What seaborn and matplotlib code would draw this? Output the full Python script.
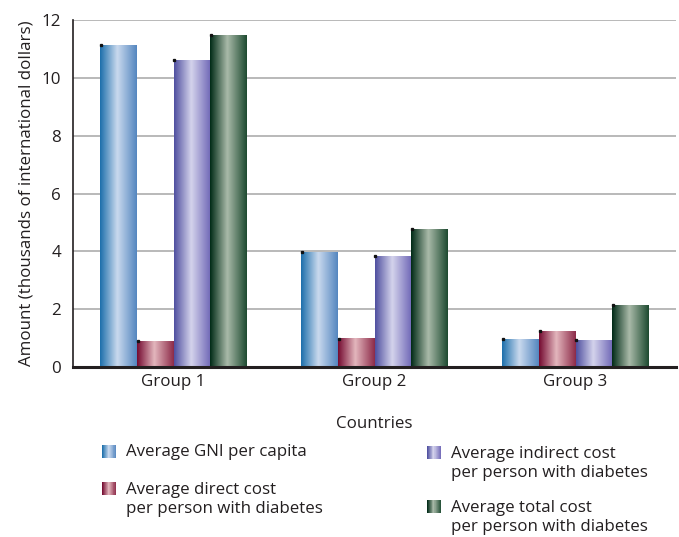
import numpy as np
import pandas as pd
import matplotlib
matplotlib.use("Agg")
import matplotlib.pyplot as plt
import seaborn as sns
from matplotlib.colors import LinearSegmentedColormap
from matplotlib.patches import Rectangle

# Data (thousands of international dollars)
groups = ["Group 1", "Group 2", "Group 3"]
series = [
    "Average GNI per capita",
    "Average direct cost\nper person with diabetes",
    "Average indirect cost\nper person with diabetes",
    "Average total cost\nper person with diabetes",
]
gni_per_capita = [11.13, 3.97, 0.96]
direct_cost = [0.89, 0.97, 1.23]
indirect_cost = [10.61, 3.83, 0.92]
total_cost = [11.48, 4.76, 2.13]

# Cylinder-like shading for each series: left edge, highlight, right edge
shades = [
    ["#1c6fab", "#c9d9ee", "#5486bf"],
    ["#740a30", "#e3b6bd", "#8c2a48"],
    ["#4f4f9f", "#d4d3ec", "#6e66b6"],
    ["#002a16", "#a9baa9", "#1d4a30"],
]

df = pd.DataFrame({
    "Countries": groups * 4,
    "series": np.repeat(series, len(groups)),
    "value": gni_per_capita + direct_cost + indirect_cost + total_cost,
})

sns.set_style("white")
text_color = "#231f20"
FS = 12.2
plt.rcParams["font.family"] = ["Open Sans", "DejaVu Sans"]
plt.rcParams["font.size"] = FS
plt.rcParams["text.color"] = text_color
plt.rcParams["axes.labelcolor"] = text_color
plt.rcParams["xtick.color"] = text_color
plt.rcParams["ytick.color"] = text_color

W, H = 679, 537
fig = plt.figure(figsize=(W / 100, H / 100), dpi=100)
ax = fig.add_axes([73 / W, 1 - 367 / H, 603 / W, 347 / H])

sns.barplot(data=df, x="Countries", y="value", hue="series", hue_order=series,
            order=groups, palette=[s[0] for s in shades], saturation=1,
            width=0.73, linewidth=0, legend=False, ax=ax)

cmaps = [LinearSegmentedColormap.from_list(f"shade{i}", list(zip([0, 0.47, 1], s)))
         for i, s in enumerate(shades)]
ramp = np.linspace(0, 1, 256)[None, :]

for cont, cmap in zip(ax.containers, cmaps):
    for bar in cont:
        x, w, h = bar.get_x(), bar.get_width(), bar.get_height()
        ax.imshow(ramp, cmap=cmap, extent=[x, x + w, 0, h], aspect="auto",
                  interpolation="bilinear", zorder=2)
        bar.set_facecolor("none")
        # small corner tick at each bar's top-left
        ax.plot([x + 0.004], [h], marker="s", markersize=1.4, color="#111111",
                linestyle="none", zorder=3)

ax.set_xlim(-0.5, 2.5)
ax.set_ylim(0, 12)
ax.set_yticks(range(0, 13, 2))
ax.yaxis.grid(True, color="#b3b3b3", linewidth=1.3)
ax.set_axisbelow(True)
sns.despine(ax=ax, top=True, right=True)
ax.spines["left"].set_color("#231f20")
ax.spines["left"].set_linewidth(1.2)
ax.spines["bottom"].set_color("#231f20")
ax.spines["bottom"].set_linewidth(2.2)
ax.spines["bottom"].set_zorder(5)
ax.tick_params(axis="x", length=0, labelsize=FS, pad=5)
ax.tick_params(axis="y", length=0, labelsize=FS, pad=8.5)
ax.set_xlabel("Countries", fontsize=FS, labelpad=19)
ax.set_ylabel("Amount (thousands of international dollars)", fontsize=FS)
ax.yaxis.set_label_coords(-38 / 603, 0.5)

# Legend: two columns, swatch aligned with the first line of each entry
legend_items = [
    (series[0], 102, 458),
    (series[1], 102, 495),
    (series[2], 427, 459),
    (series[3], 427, 513),
]
sw_w, sw_h = 14, 13
n_strips = 28
first_line_ascent = 13.5
for (label, px, py), cmap in zip(legend_items, cmaps):
    for i in range(n_strips):
        fig.patches.append(Rectangle(
            ((px + sw_w * i / n_strips) / W, 1 - py / H),
            sw_w / n_strips * 1.1 / W, sw_h / H,
            facecolor=cmap((i + 0.5) / n_strips), edgecolor="none",
            transform=fig.transFigure, figure=fig))
    fig.text((px + sw_w + 10) / W, 1 - (py - first_line_ascent) / H, label,
             ha="left", va="top", fontsize=FS, linespacing=1.33)

fig.savefig("out.png", dpi=100)
